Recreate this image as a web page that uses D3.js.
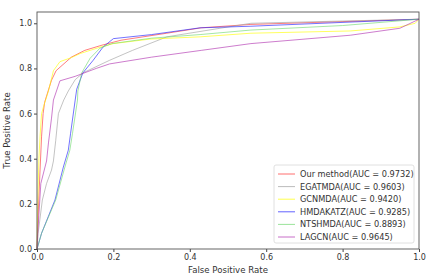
<!DOCTYPE html>
<html>
<head>
<meta charset="utf-8">
<script src="https://cdn.jsdelivr.net/npm/d3@7"></script>
<style>
  body { margin: 0; background: #fff; }
  text { font-family: "DejaVu Sans", sans-serif; }
</style>
</head>
<body>
<div id="graph"></div>
<script>
// ROC points, [fpr, tpr]
var ourMethod = [[0,0],[0.003,0.15],[0.008,0.35],[0.012,0.5],[0.016,0.6],[0.02,0.65],[0.038,0.748],[0.05,0.79],[0.09,0.85],[0.125,0.88],[0.17,0.903],[0.22,0.925],[0.34,0.956],[0.43,0.98],[0.56,0.995],[1,1.018]];
var egatmda = [[0,0],[0.003,0.07],[0.014,0.217],[0.025,0.29],[0.038,0.35],[0.043,0.39],[0.049,0.48],[0.056,0.6],[0.07,0.66],[0.082,0.70],[0.10,0.75],[0.12,0.78],[0.19,0.836],[0.25,0.88],[0.34,0.94],[0.45,0.97],[0.56,1.0],[0.8,1.01],[1,1.018]];
var gcnmda = [[0,0],[0.002,0.2],[0.005,0.4],[0.008,0.5],[0.012,0.6],[0.017,0.63],[0.03,0.70],[0.043,0.79],[0.06,0.83],[0.09,0.848],[0.113,0.866],[0.165,0.894],[0.2,0.91],[0.296,0.93],[0.427,0.94],[0.56,0.956],[0.82,0.966],[0.95,0.984],[0.99,1.0],[1,1.018]];
var hmdakatz = [[0,0],[0.012,0.07],[0.047,0.217],[0.069,0.363],[0.082,0.438],[0.088,0.513],[0.1,0.66],[0.104,0.708],[0.12,0.78],[0.147,0.836],[0.173,0.895],[0.2,0.932],[0.3,0.95],[0.427,0.98],[0.56,0.987],[1,1.018]];
var ntshmda = [[0,0],[0.012,0.07],[0.049,0.217],[0.073,0.363],[0.086,0.438],[0.093,0.513],[0.106,0.66],[0.107,0.70],[0.117,0.78],[0.139,0.845],[0.165,0.89],[0.196,0.91],[0.3,0.934],[0.427,0.95],[0.56,0.97],[0.8,0.99],[1,1.018]];
var lagcn = [[0,0],[0.002,0.07],[0.01,0.29],[0.025,0.39],[0.03,0.47],[0.038,0.58],[0.043,0.66],[0.06,0.745],[0.1,0.765],[0.155,0.80],[0.19,0.82],[0.3,0.85],[0.43,0.88],[0.56,0.91],[0.82,0.947],[0.95,0.978],[1,1.018]];

var names = ["Our method(AUC = 0.9732)", "EGATMDA(AUC = 0.9603)", "GCNMDA(AUC = 0.9420)",
             "HMDAKATZ(AUC = 0.9285)", "NTSHMDA(AUC = 0.8893)", "LAGCN(AUC = 0.9645)"];
var colors = ["#ff3030", "#a0a0a0", "#ffff00", "#2020ff", "#70d870", "#b030b0"];
var curves = [ourMethod, egatmda, gcnmda, hmdakatz, ntshmda, lagcn];
var xTicks = [0, 0.2, 0.4, 0.6, 0.8, 1.0];
var yTicks = [0, 0.2, 0.4, 0.6, 0.8, 1.0];

var W = 436, H = 276;
var margin = {top: 12, right: 17, bottom: 27, left: 37};
var width = W - margin.left - margin.right,
    height = H - margin.top - margin.bottom;

var svg = d3.select("#graph").append("svg")
    .attr("width", W).attr("height", H);

var xScale = d3.scaleLinear().domain([0, 1]).range([0, width]);
var yScale = d3.scaleLinear().domain([0, 1.05]).range([height, 0]);

var g = svg.append("g")
    .attr("transform", "translate(" + margin.left + "," + margin.top + ")");

// axes
var xAxis = d3.axisBottom(xScale).tickValues(xTicks).tickFormat(d3.format(".1f")).tickSize(3).tickPadding(2);
var yAxis = d3.axisLeft(yScale).tickValues(yTicks).tickFormat(d3.format(".1f")).tickSize(3).tickPadding(2);

var gX = g.append("g").attr("transform", "translate(0," + height + ")").call(xAxis);
var gY = g.append("g").call(yAxis);
[gX, gY].forEach(function(a) {
  a.select(".domain").remove();
  a.selectAll("line").attr("stroke", "#444");
  a.selectAll("text").attr("fill", "#333").style("font-size", "8px");
});

// lines
var line = d3.line()
    .x(function(d) { return xScale(d[0]); })
    .y(function(d) { return yScale(d[1]); });

curves.forEach(function(c, i) {
  g.append("path")
    .datum(c)
    .attr("d", line)
    .attr("fill", "none")
    .attr("stroke", colors[i])
    .attr("stroke-opacity", 0.7)
    .attr("stroke-width", 0.9);
});

// frame
g.append("rect")
  .attr("width", width).attr("height", height)
  .attr("fill", "none").attr("stroke", "#555").attr("stroke-width", 0.9);

// axis labels
svg.append("text")
  .attr("x", margin.left + width / 2).attr("y", H - 3)
  .attr("text-anchor", "middle").attr("fill", "#333")
  .style("font-size", "8.6px").text("False Positive Rate");
svg.append("text")
  .attr("transform", "translate(10," + (margin.top + height / 2) + ") rotate(-90)")
  .attr("text-anchor", "middle").attr("fill", "#333")
  .style("font-size", "8.6px").text("True Positive Rate");

// legend
var lg = svg.append("g").attr("transform", "translate(274,165)");
lg.append("rect")
  .attr("width", 140).attr("height", 78).attr("rx", 2)
  .attr("fill", "#fff").attr("fill-opacity", 0.85)
  .attr("stroke", "#d8d8d8").attr("stroke-width", 0.8);
names.forEach(function(n, i) {
  var yy = 9 + i * 12.6;
  lg.append("line")
    .attr("x1", 4).attr("x2", 21).attr("y1", yy).attr("y2", yy)
    .attr("stroke", colors[i]).attr("stroke-opacity", 0.7).attr("stroke-width", 1);
  lg.append("text")
    .attr("x", 26).attr("y", yy + 2.9)
    .attr("fill", "#333").style("font-size", "8.2px").text(n);
});
</script>
</body>
</html>
